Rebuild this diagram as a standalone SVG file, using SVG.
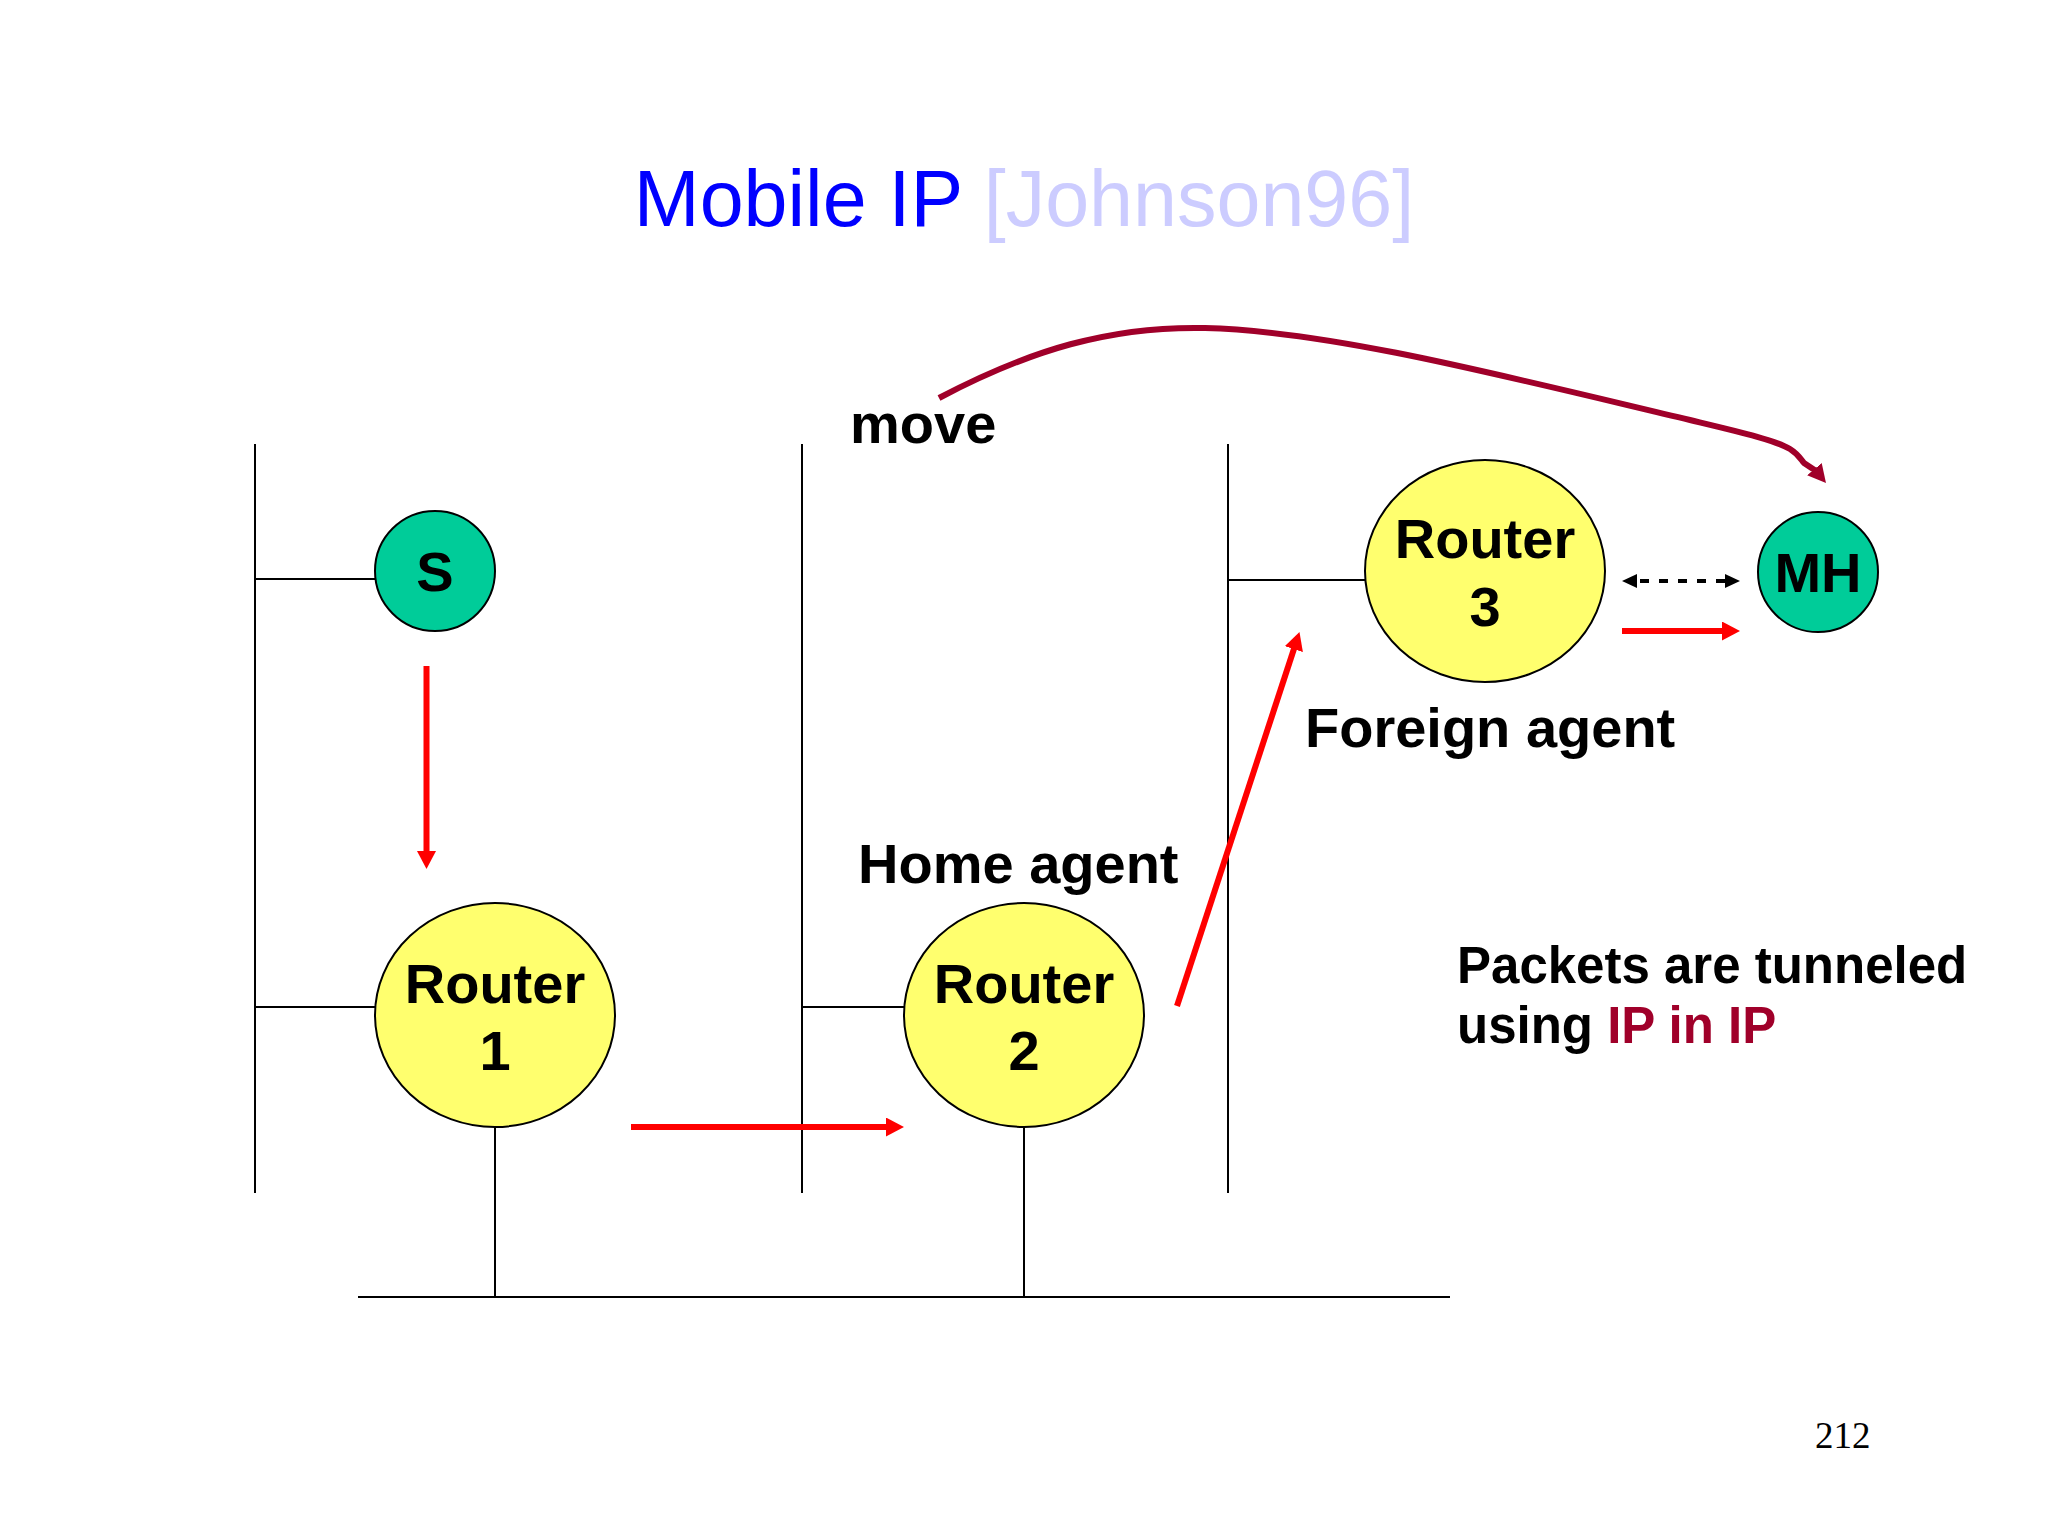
<svg xmlns="http://www.w3.org/2000/svg" width="2048" height="1536" viewBox="0 0 2048 1536">
<style>
.net{stroke:#000;stroke-width:2;fill:none}
.node{stroke:#000;stroke-width:2}
.router{fill:#FFFF6E}
.host{fill:#00CC99}
.lbl{font-family:"Liberation Sans",Arial,sans-serif;font-weight:bold;font-size:56px;fill:#000}
.note{font-family:"Liberation Sans",Arial,sans-serif;font-weight:bold;font-size:51px;fill:#000}
.red{stroke:#FF0000;stroke-width:6;fill:none}
</style>
<defs>
<marker id="redHead" markerUnits="userSpaceOnUse" viewBox="0 0 18 19" markerWidth="18" markerHeight="19" refX="2" refY="9.5" orient="auto">
<path d="M0,0 L18,9.5 L0,19 z" fill="#FF0000"/>
</marker>
<marker id="blackHead" markerUnits="userSpaceOnUse" viewBox="0 0 15 14" markerWidth="15" markerHeight="14" refX="1" refY="7" orient="auto-start-reverse">
<path d="M0,0 L15,7 L0,14 z" fill="#000"/>
</marker>
<marker id="moveHead" markerUnits="userSpaceOnUse" viewBox="0 0 18 19" markerWidth="18" markerHeight="19" refX="2" refY="9.5" orient="50">
<path d="M0,0 L18,9.5 L0,19 z" fill="#A0002A"/>
</marker>
</defs>
<rect width="2048" height="1536" fill="#FFFFFF"/>

<text x="1024" y="226" text-anchor="middle" font-family="Liberation Sans, Arial, sans-serif" font-size="79"><tspan fill="#0000FF">Mobile IP </tspan><tspan fill="#CCCCFF">[Johnson96]</tspan></text>

<g id="networks">
<line class="net" x1="255" y1="444" x2="255" y2="1193"/>
<line class="net" x1="802" y1="444" x2="802" y2="1193"/>
<line class="net" x1="1228" y1="444" x2="1228" y2="1193"/>
<line class="net" x1="358" y1="1297" x2="1450" y2="1297"/>
<line class="net" x1="255" y1="579" x2="376" y2="579"/>
<line class="net" x1="255" y1="1007" x2="376" y2="1007"/>
<line class="net" x1="802" y1="1007" x2="905" y2="1007"/>
<line class="net" x1="1228" y1="580" x2="1366" y2="580"/>
<line class="net" x1="495" y1="1127" x2="495" y2="1297"/>
<line class="net" x1="1024" y1="1127" x2="1024" y2="1297"/>
</g>

<g id="node-S">
<ellipse class="node host" cx="435" cy="571" rx="60" ry="60"/>
<text class="lbl" x="435" y="591" text-anchor="middle">S</text>
</g>
<g id="node-MH">
<ellipse class="node host" cx="1818" cy="572" rx="60" ry="60"/>
<text class="lbl" x="1818" y="592" text-anchor="middle">MH</text>
</g>
<g id="node-router1">
<ellipse class="node router" cx="495" cy="1015" rx="120" ry="112"/>
<text class="lbl" x="495" y="1003" text-anchor="middle">Router</text>
<text class="lbl" x="495" y="1070" text-anchor="middle">1</text>
</g>
<g id="node-router2">
<ellipse class="node router" cx="1024" cy="1015" rx="120" ry="112"/>
<text class="lbl" x="1024" y="1003" text-anchor="middle">Router</text>
<text class="lbl" x="1024" y="1070" text-anchor="middle">2</text>
</g>
<g id="node-router3">
<ellipse class="node router" cx="1485" cy="571" rx="120" ry="111"/>
<text class="lbl" x="1485" y="558" text-anchor="middle">Router</text>
<text class="lbl" x="1485" y="626" text-anchor="middle">3</text>
</g>

<g id="connectors">
<line class="red" x1="426.5" y1="666" x2="426.5" y2="853" marker-end="url(#redHead)"/>
<line class="red" x1="631" y1="1127" x2="888" y2="1127" marker-end="url(#redHead)"/>
<line class="red" x1="1177" y1="1006" x2="1294.5" y2="647.2" marker-end="url(#redHead)"/>
<line class="red" x1="1622" y1="631" x2="1724" y2="631" marker-end="url(#redHead)"/>
<line x1="1636" y1="581" x2="1726" y2="581" stroke="#000" stroke-width="4" stroke-dasharray="9 10" stroke-dashoffset="-4" marker-start="url(#blackHead)" marker-end="url(#blackHead)"/>
<path d="M939,398 C1030,350 1110,326 1205,328 C1330,331 1500,375 1690,420 C1740,432 1775,440 1790,449 C1798,454 1800,458 1804,463 L1815.7,470.7" stroke="#A0002A" stroke-width="6" fill="none" marker-end="url(#moveHead)"/>
</g>

<g id="labels">
<text class="lbl" x="850" y="443">move</text>
<text class="lbl" x="858" y="883">Home agent</text>
<text class="lbl" x="1305" y="747">Foreign agent</text>
<text class="note" x="1457" y="983">Packets are tunneled</text>
<text class="note" x="1457" y="1043">using <tspan fill="#A0002A">IP in IP</tspan></text>
<text x="1815" y="1448" font-family="Liberation Serif, Times New Roman, serif" font-size="37" fill="#000">212</text>
</g>
</svg>
